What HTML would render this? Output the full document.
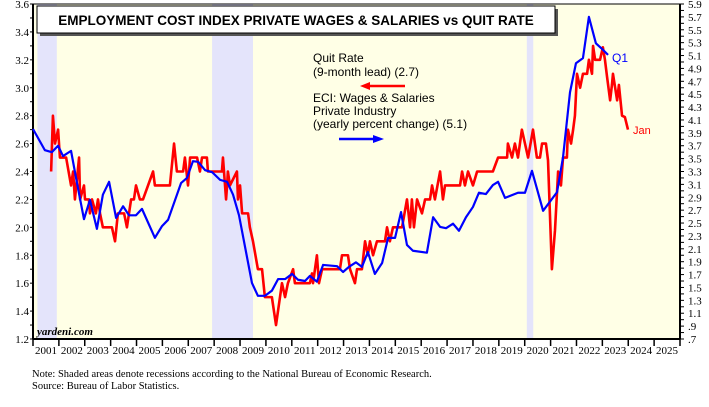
<!DOCTYPE html>
<html><head><meta charset="utf-8"><style>
body{margin:0;background:#fff;width:709px;height:402px;overflow:hidden}
svg text{font-family:"Liberation Serif",serif}
.s{font-family:"Liberation Sans",sans-serif}
</style></head><body>
<svg id="c" width="709" height="402" xmlns="http://www.w3.org/2000/svg"></svg>
<script>
// ---- data ----
const years=[2001,2002,2003,2004,2005,2006,2007,2008,2009,2010,2011,2012,2013,2014,2015,2016,2017,2018,2019,2020,2021,2022,2023,2024,2025];
const leftTicks=[1.2,1.4,1.6,1.8,2.0,2.2,2.4,2.6,2.8,3.0,3.2,3.4,3.6];
const rightTicks=[0.7,0.9,1.1,1.3,1.5,1.7,1.9,2.1,2.3,2.5,2.7,2.9,3.1,3.3,3.5,3.7,3.9,4.1,4.3,4.5,4.7,4.9,5.1,5.3,5.5,5.7,5.9];
const recStart=[2001.17,2007.92,2020.08];
const recEnd=[2001.92,2009.5,2020.33];
const quitT=[2001.70,2001.77,2001.85,2001.97,2002.04,2002.28,2002.47,2002.55,2002.62,2002.78,2002.82,2002.97,2003.01,2003.16,2003.20,2003.28,2003.43,2003.51,2003.59,2003.70,2004.05,2004.17,2004.28,2004.52,2004.63,2004.79,2004.90,2004.98,2005.13,2005.25,2005.64,2005.71,2006.29,2006.45,2006.56,2006.80,2006.87,2006.99,2007.07,2007.34,2007.45,2007.53,2007.72,2007.76,2008.30,2008.34,2008.46,2008.50,2008.53,2008.61,2008.88,2008.92,2009.00,2009.08,2009.31,2009.38,2009.50,2009.69,2009.85,2009.96,2010.23,2010.39,2010.62,2010.74,2010.85,2011.05,2011.12,2011.70,2011.78,2011.82,2011.97,2012.05,2012.17,2012.86,2012.94,2013.17,2013.25,2013.44,2013.52,2013.71,2013.83,2013.94,2014.02,2014.14,2014.29,2014.60,2014.68,2014.79,2014.91,2015.26,2015.45,2015.57,2015.64,2015.72,2015.84,2016.03,2016.15,2016.34,2016.42,2016.53,2016.73,2016.84,2016.92,2017.50,2017.58,2017.69,2017.81,2018.00,2018.16,2018.77,2018.97,2019.32,2019.35,2019.51,2019.62,2019.74,2019.89,2020.01,2020.13,2020.32,2020.47,2020.59,2020.67,2020.82,2020.90,2021.05,2021.17,2021.29,2021.40,2021.48,2021.63,2021.67,2021.79,2021.87,2021.94,2022.02,2022.14,2022.25,2022.41,2022.48,2022.60,2022.64,2022.72,2022.91,2023.02,2023.10,2023.18,2023.30,2023.37,2023.41,2023.57,2023.64,2023.76,2023.87,2023.99];
const quitV=[2.40,2.80,2.60,2.70,2.50,2.50,2.30,2.40,2.20,2.50,2.20,2.30,2.20,2.20,2.10,2.20,2.10,2.20,2.10,2.00,2.00,1.90,2.10,2.10,2.00,2.20,2.20,2.30,2.20,2.20,2.40,2.30,2.30,2.60,2.40,2.40,2.50,2.30,2.50,2.50,2.40,2.50,2.50,2.40,2.40,2.50,2.20,2.30,2.40,2.30,2.40,2.20,2.30,2.10,2.10,2.00,1.90,1.70,1.70,1.50,1.50,1.30,1.60,1.50,1.60,1.70,1.60,1.60,1.67,1.60,1.80,1.60,1.70,1.70,1.80,1.80,1.70,1.60,1.70,1.70,1.90,1.80,1.90,1.80,1.90,1.90,2.00,1.90,2.00,2.00,2.20,2.00,2.20,2.00,2.20,2.10,2.20,2.20,2.30,2.20,2.40,2.20,2.30,2.30,2.40,2.30,2.40,2.30,2.40,2.40,2.50,2.50,2.60,2.50,2.60,2.50,2.70,2.60,2.50,2.70,2.50,2.50,2.60,2.60,2.48,1.70,1.98,2.40,2.30,2.50,2.50,2.70,2.60,2.70,2.80,3.10,3.00,3.10,3.10,3.20,3.10,3.30,3.20,3.20,3.29,3.20,3.08,2.91,3.02,3.10,2.91,3.02,2.80,2.79,2.70];
const eciT=[2001.00,2001.46,2001.73,2001.97,2002.16,2002.47,2002.70,2002.97,2003.20,2003.47,2003.70,2003.94,2004.21,2004.48,2004.71,2004.98,2005.21,2005.71,2005.98,2006.22,2006.72,2006.95,2007.18,2007.38,2007.65,2007.92,2008.23,2008.50,2008.73,2008.96,2009.46,2009.69,2009.96,2010.23,2010.47,2010.74,2011.01,2011.24,2011.51,2011.70,2011.97,2012.21,2012.75,2012.98,2013.21,2013.48,2013.71,2013.94,2014.21,2014.49,2014.72,2014.99,2015.22,2015.45,2015.68,2016.22,2016.46,2016.73,2016.96,2017.23,2017.46,2017.73,2018.00,2018.23,2018.50,2018.77,2018.97,2019.24,2019.74,2020.01,2020.28,2020.71,2021.25,2021.48,2021.75,2021.98,2022.25,2022.48,2022.75,2023.02,2023.22];
const eciV=[3.96,3.63,3.60,3.70,3.54,3.62,3.12,2.56,2.86,2.41,2.94,3.14,2.58,2.76,2.62,2.62,2.72,2.27,2.45,2.55,3.12,3.20,3.46,3.45,3.32,3.29,3.17,3.14,2.94,2.62,1.57,1.37,1.37,1.45,1.63,1.63,1.71,1.62,1.60,1.68,1.59,1.85,1.83,1.74,1.82,1.89,1.82,2.05,1.71,1.88,2.27,2.27,2.67,2.16,2.07,2.04,2.59,2.44,2.42,2.49,2.38,2.59,2.75,2.97,2.95,3.09,3.14,2.89,2.97,2.97,3.31,2.69,2.98,3.52,4.53,4.98,5.06,5.70,5.29,5.19,5.11];

// ---- scales ----
const L=33,R=680,T=4,B=339;
const x=t=>L+(t-2001)*(R-L)/25;
const yl=v=>B-(v-1.2)/2.4*(B-T);
const yr=v=>B-(v-0.7)/5.2*(B-T);
const svg=document.getElementById('c');
const NS='http://www.w3.org/2000/svg';
function mk(tag,attrs,txt){const e=document.createElementNS(NS,tag);for(const k in attrs)e.setAttribute(k,attrs[k]);if(txt!==undefined)e.textContent=txt;svg.appendChild(e);return e;}

let e=mk('rect',{x:L,y:T,width:R-L,height:B-T,fill:'#ffffe6'});


recStart.forEach((s,i)=>{
  const r=mk('rect',{x:x(s),y:T,width:x(recEnd[i])-x(s),height:B-T,fill:'#e4e4fb'});
  
  
});
e=mk('rect',{x:L,y:T,width:R-L,height:B-T,fill:'none',stroke:'#000','stroke-width':1});



// left axis
mk('line',{x1:L,y1:T,x2:L,y2:B,stroke:'#000','stroke-width':2});
for(let v=1.2;v<=3.601;v+=0.1){const y=yl(v);mk('line',{x1:L-3,y1:y,x2:L,y2:y,stroke:'#000'});}
leftTicks.forEach(v=>{
  const t=mk('text',{x:L-4,y:yl(v)+4,'text-anchor':'end','font-size':11},v.toFixed(1));
  
  
});
// right axis
mk('line',{x1:R,y1:T,x2:R,y2:B,stroke:'#000','stroke-width':2});
for(let v=0.7;v<=5.901;v+=0.1){const y=yr(v);mk('line',{x1:R,y1:y,x2:R+4,y2:y,stroke:'#000'});}
rightTicks.forEach(v=>{
  const s=v<1?'.'+Math.round(v*10):v.toFixed(1);
  const t=mk('text',{x:R+8,y:yr(v)+4,'font-size':11},s);
  
  
});
// x axis
mk('line',{x1:L,y1:B,x2:R,y2:B,stroke:'#000','stroke-width':2});
years.forEach(yv=>{
  mk('line',{x1:x(yv),y1:B,x2:x(yv),y2:B+7,stroke:'#000','stroke-width':1.5});
  const t=mk('text',{x:x(yv+0.5),y:B+15,'text-anchor':'middle','font-size':11},String(yv));
  
  
});
mk('line',{x1:R,y1:B,x2:R,y2:B+7,stroke:'#000','stroke-width':1.5});

// series
e=mk('polyline',{points:quitT.map((t,i)=>x(t)+','+yl(quitV[i])).join(' '),fill:'none',stroke:'#ff0000','stroke-width':2.6,'stroke-linejoin':'round'});


e=mk('polyline',{points:eciT.map((t,i)=>x(t)+','+yr(eciV[i])).join(' '),fill:'none',stroke:'#0000ff','stroke-width':2.2,'stroke-linejoin':'round'});



// title
mk('rect',{x:40,y:9,width:518,height:27,fill:'#555'});
e=mk('rect',{x:37,y:6,width:518,height:27,fill:'#fff',stroke:'#000','stroke-width':1});


e=mk('text',{x:296,y:25,'text-anchor':'middle','font-size':13.5,'font-weight':'bold',class:'s'},'EMPLOYMENT COST INDEX PRIVATE WAGES & SALARIES vs QUIT RATE');



// legend
const lg=[['Quit Rate',62],['(9-month lead) (2.7)',76]];
lg.forEach(a=>{const t=mk('text',{x:313,y:a[1],'font-size':12,class:'s'},a[0]);});
e=mk('line',{x1:368,y1:86,x2:405,y2:86,stroke:'#f00','stroke-width':2.5});


mk('polygon',{points:'360,86 370,82 370,90',fill:'#f00'});
[['ECI: Wages & Salaries',102],['Private Industry',115],['(yearly percent change) (5.1)',128]].forEach(a=>{const t=mk('text',{x:313,y:a[1],'font-size':12,class:'s'},a[0]);});
e=mk('line',{x1:339,y1:139,x2:374,y2:139,stroke:'#00f','stroke-width':2.5});


mk('polygon',{points:'384,139 373,135 373,143',fill:'#00f'});

e=mk('text',{x:612,y:62,'font-size':12,fill:'#00f',class:'s'},'Q1');


e=mk('text',{x:633,y:134,'font-size':11,fill:'#f00',class:'s'},'Jan');


e=mk('text',{x:37,y:335,'font-size':11,'font-weight':'bold','font-style':'italic'},'yardeni.com');


e=mk('text',{x:32,y:377,'font-size':10.5},'Note: Shaded areas denote recessions according to the National Bureau of Economic Research.');


e=mk('text',{x:32,y:389,'font-size':10.5},'Source: Bureau of Labor Statistics.');


</script>
</body></html>
